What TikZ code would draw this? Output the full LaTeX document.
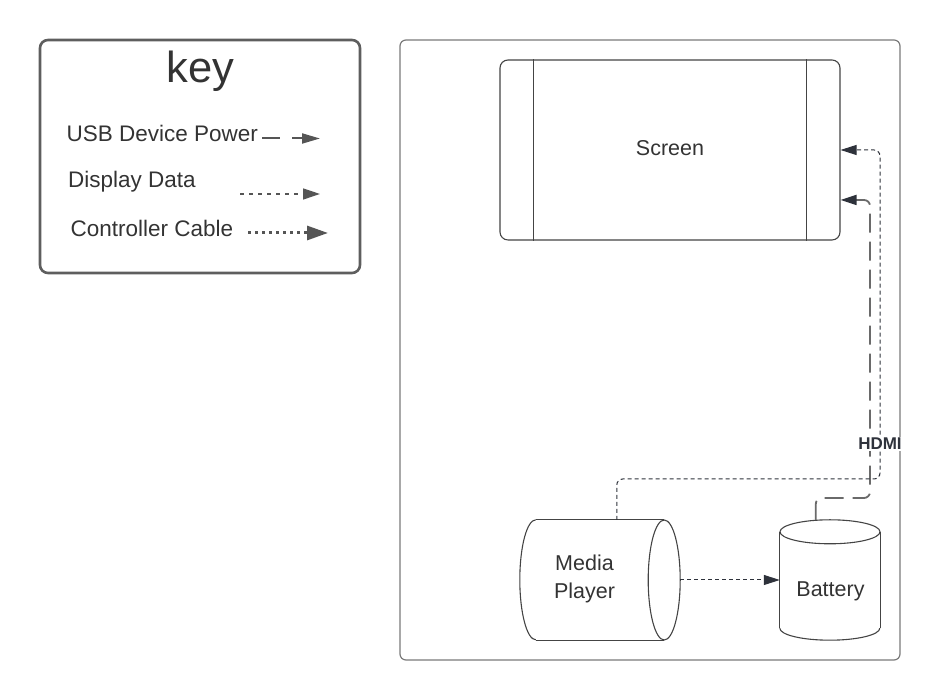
\documentclass[tikz,border=0pt]{standalone}
\usepackage{fontspec}
\setmainfont{Liberation Sans}
\usetikzlibrary{arrows.meta,calc}
\definecolor{txt}{HTML}{333333}
\definecolor{keyborder}{HTML}{5E5E5E}
\definecolor{frameborder}{HTML}{7A7A7A}
\definecolor{shapeborder}{HTML}{444444}
\definecolor{conn}{HTML}{2E323B}
\definecolor{pwr}{HTML}{6A6A6A}
\definecolor{legendc}{HTML}{555555}
\begin{document}
\begin{tikzpicture}[x=1pt,y=1pt,
  label text/.style={text=txt, font=\fontsize{21.5}{28}\selectfont, inner sep=0pt, align=center},
  legend text/.style={text=txt, font=\fontsize{22.5}{28}\selectfont, inner sep=0pt},
  shapebody/.style={draw=none, inner sep=0pt},
  shapeline/.style={draw=shapeborder, line width=1.1pt},
  power/.style={draw=pwr, line width=1.8pt, dash pattern=on 19pt off 9pt},
  ddata/.style={draw=conn, line width=1pt, dash pattern=on 4pt off 3pt},
  tipmain/.style={-{Triangle[length=16pt,width=10pt,color=conn]}},
]
\useasboundingbox (0,0) rectangle (943,700);

% ---------- key ----------
\node[draw=keyborder, line width=2.6pt, rounded corners=8pt, minimum width=320pt, minimum height=233pt, inner sep=0pt] (keybox) at (200,543.5) {};
\node[text=txt, font=\fontsize{43.5}{50}\selectfont, anchor=base, inner sep=0pt] (keytitle) at (200.5,617) {key};
\node[legend text, anchor=base west] (kusb) at (66.5,558) {USB Device Power};
\node[legend text, anchor=base west] (kdisp) at (68,512) {Display Data};
\node[legend text, anchor=base west] (kctrl) at (70.5,463) {Controller Cable};
\coordinate (ka1) at (262,561.5); \coordinate (ka2) at (320,561.5);
\coordinate (kb1) at (240,506); \coordinate (kb2) at (320,506);
\coordinate (kc1) at (248,467); \coordinate (kc2) at (328,467);
\draw[draw=legendc, line width=2pt, dash pattern=on 18pt off 12pt, -{Triangle[length=18pt,width=10pt]}, color=legendc] (ka1) -- (ka2);
\draw[draw=legendc, line width=1.4pt, dash pattern=on 4pt off 5pt, -{Triangle[length=17pt,width=11pt]}, color=legendc] (kb1) -- (kb2);
\draw[draw=legendc, line width=3pt, dash pattern=on 3pt off 4pt, -{Triangle[length=21pt,width=14pt]}, color=legendc] (kc1) -- (kc2);

% ---------- frame ----------
\node[draw=frameborder, line width=1.2pt, rounded corners=6pt, minimum width=500pt, minimum height=620pt, inner sep=0pt] (frame) at (650,350) {};

% ---------- screen ----------
\node[shapeline, rounded corners=8pt, minimum width=340pt, minimum height=180pt, inner sep=0pt] (scr) at (670,550) {};
\draw[shapeline] ($(scr.north west)+(34,0)$) -- ($(scr.south west)+(34,0)$);
\draw[shapeline] ($(scr.north east)+(-34,0)$) -- ($(scr.south east)+(-34,0)$);
\node[label text, anchor=base] (scrtext) at (670,544) {Screen};

% ---------- media player (horizontal cylinder) ----------
\node[shapebody, minimum width=160pt, minimum height=120pt] (mp) at (600,120) {};
\draw[shapeline] ($(mp.north west)+(16,0)$) -- ($(mp.north east)+(-16,0)$);
\draw[shapeline] ($(mp.south west)+(16,0)$) -- ($(mp.south east)+(-16,0)$);
\draw[shapeline] ($(mp.north west)+(16,0)$) arc[start angle=90, end angle=270, x radius=16pt, y radius=60pt];
\draw[shapeline] ($(mp.east)+(-16,0)$) ellipse[x radius=16pt, y radius=60pt];
\node[label text] (mptext) at (584.5,121) {Media\\Player};

% ---------- battery (vertical cylinder) ----------
\node[shapebody, minimum width=100pt, minimum height=120pt] (bat) at (830,120) {};
\draw[shapeline] ($(bat.north)+(0,-12)$) ellipse[x radius=50pt, y radius=12pt];
\draw[shapeline] ($(bat.north west)+(0,-12)$) -- ($(bat.south west)+(0,12)$);
\draw[shapeline] ($(bat.north east)+(0,-12)$) -- ($(bat.south east)+(0,12)$);
\draw[shapeline] ($(bat.south west)+(0,12)$) arc[start angle=180, end angle=360, x radius=50pt, y radius=12pt];
\node[label text, anchor=base] (battext) at (830.5,103) {Battery};

% ---------- connectors ----------
\coordinate (mptop) at ($(mp.north west)+(97,0)$);
\coordinate (c1) at (880,221);
\coordinate (battop) at ($(bat.north west)+(36,0)$);
\coordinate (c2) at (870,202);
\coordinate (scrlow) at ($(scr.east)+(0,-50)$);

\draw[power, rounded corners=6pt, tipmain] (battop) |- (c2) |- (scrlow);
\draw[ddata, rounded corners=6pt, tipmain] (mptop) |- (c1) |- (scr.east);
\draw[ddata, tipmain] (mp.east) -- (bat.west);

\node[fill=white, text=conn, font=\bfseries\fontsize{17}{20}\selectfont, anchor=base, inner sep=1.5pt] (hdmi) at (880,250) {HDMI};
\end{tikzpicture}
\end{document}
